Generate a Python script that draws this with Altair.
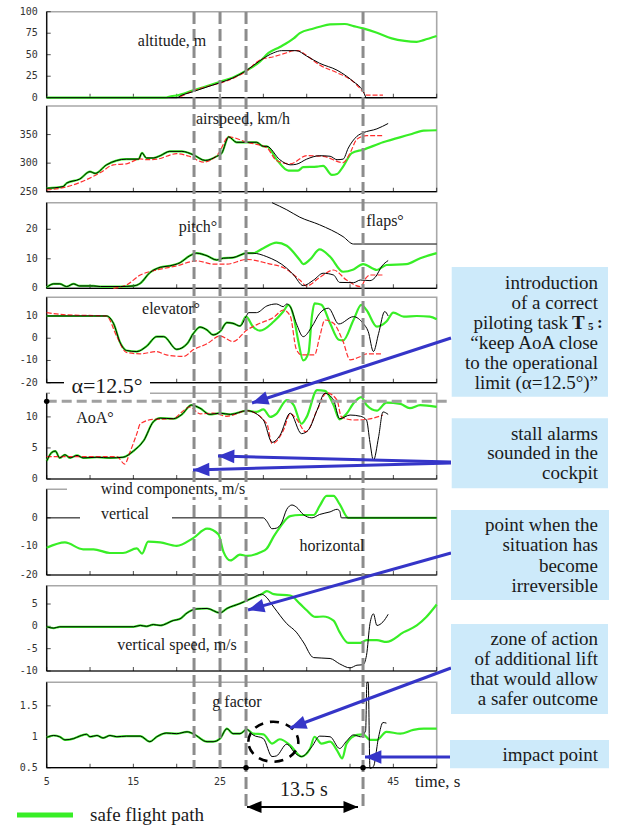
import math
import altair as alt
import pandas as pd

SERIF = "Liberation Serif, Times New Roman, Times, serif"
MONO = "DejaVu Sans Mono, monospace"
GREEN = "#38ee26"
RED = "#ff2e2e"
BLUE = "#3535c8"
FRAME = "#a8a8a8"
DASHGRAY = "#8c8c8c"
BOXBLUE = "#cdeafa"

# ---------------- data ----------------
X_TICKS = [5, 10, 15, 20, 25, 30, 35, 40, 45, 50]
X_LABELS = [5, 15, 25, 45]

# altitude, m
alt_green_t = [5, 18.6, 19.5, 20.0, 21.9, 23.5, 25.0, 26.5, 28.1, 29.6, 30.6, 31.9, 33.5, 34.2, 35.8, 36.5, 37.7, 39.4, 40.4, 41.5, 43.1, 44.8, 46.3, 47.7, 48.5, 50]
alt_green_v = [0, 0, 2, 2.5, 8.5, 13.5, 18.6, 23.6, 32, 42, 52, 59, 69, 75, 80.5, 82.5, 85.3, 85.7, 83.3, 80.6, 75.6, 69, 66, 65, 67, 71.7]
alt_black_t = [5, 20.0, 20.5, 21.9, 23.5, 25.0, 26.5, 28.1, 29.6, 31.2, 32.1, 33.8, 35.0, 36.5, 38.5, 39.6, 40.4, 41.2, 41.5, 41.9, 43.8]
alt_black_v = [0, 0, 2.5, 7, 12.5, 17.4, 23, 32, 43, 52.3, 54.7, 54.7, 48.4, 40, 32, 25, 18.6, 12, 8, 0, 0]
alt_red_t = [20.4, 21.9, 23.5, 25.0, 26.5, 28.1, 29.6, 31.2, 32.7, 33.5, 34.0, 35.0, 36.5, 38.5, 40.4, 41.5, 41.9, 43.8]
alt_red_v = [1, 8, 13, 17, 22.5, 31.4, 43.8, 47.7, 52.3, 54.7, 54.7, 49, 38, 29, 18.6, 7, 3, 3]

# airspeed, km/h
spd_common_t = [5, 6.9, 7.3, 8.8, 10.0, 10.6, 11.9, 14.2, 15.6, 16.0, 16.5, 17.3, 18.1, 19.2, 20.6, 21.9, 23.3, 24.6, 25.2, 26.0, 26.9, 28.1, 29.2, 30.0, 30.4]
spd_common_v = [256, 259, 265, 272, 285, 282, 297, 307, 307, 318, 309, 309, 313, 320.6, 320.6, 314.7, 304.7, 311.8, 317.6, 346, 336.5, 336.5, 336.5, 329.4, 329.4]
spd_black_t = [31.9, 33.1, 33.8, 35.0, 36.5, 37.7, 38.5, 39.2, 39.8, 40.8, 41.5, 43.1, 44.4]
spd_black_v = [306, 297, 298, 307, 313, 312, 306, 307, 326.5, 347, 353, 360, 369.4]
spd_green_t = [31.5, 32.9, 34.0, 34.6, 36.2, 36.9, 37.9, 38.5, 39.2, 40.2, 41.5, 43.8, 46.9, 48.5, 50]
spd_green_v = [307, 287, 287, 293, 294, 295.3, 279.4, 281, 294, 317.6, 323.5, 336.5, 350, 357, 357.6]
spd_red_t = [5, 6.9, 8.8, 11.2, 12.7, 14.2, 15.8, 16.5, 17.7, 20.0, 21.5, 23.1, 24.8, 26.0, 28.1, 30.4, 31.5, 33.1, 35.0, 36.9, 39.2, 40.0, 40.8, 41.9, 43.8]
spd_red_v = [253, 257, 266, 283.5, 297, 298.8, 307.6, 306, 307, 316.5, 311.8, 301.8, 316.5, 346, 336.5, 327, 304.7, 298.8, 313, 311.8, 301, 317.6, 342, 348, 348]

# pitch and flaps, deg
pit_common_t = [5, 5.8, 6.5, 7.3, 8.1, 8.8, 10.4, 11.2, 13.5, 15.0, 15.8, 16.9, 18.1, 19.2, 20.4, 21.5, 22.3, 23.5, 24.6, 25.4, 26.5, 28.1, 28.8]
pit_common_v = [0.3, 1.5, 1.5, 0.6, 1.5, 0.8, 0.8, 0.6, 0.6, 0.8, 1.7, 5.3, 7.1, 7.6, 8.7, 11, 11.9, 11, 9.6, 10.2, 10.4, 11.9, 11.9]
pit_green_t = [30.0, 31.5, 32.7, 34.2, 34.6, 35.4, 36.5, 37.7, 39.2, 40.4, 41.5, 43.1, 44.2, 46.5, 48.1, 50]
pit_green_v = [13.6, 15.5, 14.4, 9.6, 8.2, 9.8, 13.2, 10.7, 5.6, 6.4, 8.2, 6.2, 7.9, 8.2, 10.2, 11.9]
pit_black_t = [30.4, 32.7, 33.5, 34.6, 35.8, 36.9, 38.1, 38.8, 40.4, 41.2, 42.3, 42.9, 43.7, 44.4]
pit_black_v = [10.7, 6.8, 4.5, 0.9, 2.8, 5.1, 4.5, 2, 1.9, 2.8, 2.6, 3.7, 7.6, 9.4]
pit_red_t = [12.7, 14.2, 15.8, 17.7, 20.0, 22.3, 24.2, 25.8, 28.1, 30.4, 32.7, 34.2, 35.0, 36.5, 38.1, 39.6, 41.2, 41.9, 42.3, 43.8]
pit_red_v = [0, 1.1, 4.5, 6.2, 7.6, 9.3, 8.2, 8.2, 9.8, 8.5, 6.4, 2.8, 0.8, 3.7, 6.2, 2.8, 0.6, 3.7, 4.5, 4.5]
flaps_t = [31.0, 32.7, 34.2, 36.5, 39.2, 40.4, 50]
flaps_v = [29, 26.6, 24.1, 21.5, 17.5, 15, 15]

# elevator, deg
elv_common_t = [5, 10.4, 11.9, 12.7, 13.5, 14.2, 15.4, 16.5, 17.7, 18.5, 20.0, 21.2, 21.9, 22.7, 23.5, 24.2, 25.0, 25.8, 26.5, 27.3, 28.0]
elv_common_v = [10, 10, 10, 6.7, -2.2, -5.5, -6, -3.7, 0.7, 0.7, -5, -2.5, 2, 5, 3.7, 1.5, 3, 7, 6.7, 5.5, 9.7]
elv_green_t = [28.8, 29.6, 31.2, 32.3, 32.9, 33.5, 34.0, 34.6, 35.2, 35.6, 35.9, 36.7, 37.7, 38.7, 39.2, 40.4, 41.3, 41.9, 43.1, 44.2, 45.0, 46.2, 47.7, 49.2, 50]
elv_green_v = [5.2, 3.4, 7.5, 12, 15, 9.7, -0.7, -10, -6.7, 9.7, 15.7, 15, 6.7, -0.7, -1, 8.2, 15, 12.7, 5.2, 7.5, 11.5, 9.7, 10, 9.7, 8.5]
elv_black_t = [28.3, 29.2, 30.4, 31.5, 32.3, 32.7, 33.1, 33.8, 34.6, 35.6, 36.5, 37.5, 38.7, 40.4, 41.5, 42.1, 42.7, 43.3, 44.0, 44.4]
elv_black_v = [11.5, 11.5, 14.5, 15.4, 14.2, 15.4, 14.2, 6.7, 0.7, 5.2, 11.2, 13.5, 6.4, 9.7, 6.7, 3, -6, 2.2, 12, 10]
elv_red_t = [5, 7.3, 11.9, 13.1, 14.2, 15.8, 17.7, 18.8, 20.8, 21.9, 23.5, 25.0, 26.5, 28.1, 29.6, 31.2, 32.3, 33.1, 33.8, 34.4, 35.9, 36.5, 37.1, 38.1, 39.2, 40.0, 41.2, 41.9, 43.8]
elv_red_v = [11.5, 10.5, 10, 0.7, -6.4, -7, -6, -7.5, -8.2, -5.2, -2.5, 1, -1.5, 3.7, 6.7, 9.4, 12.7, 10, -5, -7.5, -7.5, 0.7, 8.2, 6.7, -1.5, -9.7, -8.2, -7, -7]

# angle of attack, deg
aoa_common_t = [5, 5.6, 6.0, 6.5, 7.1, 7.7, 8.5, 9.2, 10.8, 12.3, 13.8, 15.0, 16.2, 17.3, 18.1, 19.6, 20.6, 21.7, 22.7, 23.8, 25.0, 26.2, 28.1]
aoa_common_v = [2.9, 4.3, 4.5, 3.4, 3.9, 3.4, 3.8, 3.4, 3.5, 3.4, 3.5, 4.5, 6.2, 9.2, 9.8, 9.7, 10.4, 11.9, 11.4, 10.4, 10.6, 10.4, 11]
aoa_green_t = [29.2, 30.0, 30.8, 31.5, 32.7, 33.5, 34.4, 35.0, 36.2, 37.1, 38.1, 38.8, 39.6, 40.4, 41.3, 41.9, 43.1, 44.2, 45.8, 46.9, 48.1, 50]
aoa_green_v = [10.8, 11.2, 10, 10.5, 12.7, 11.9, 8.9, 10, 14.3, 14.2, 11.9, 9.6, 10.5, 12.2, 13.2, 11.9, 11, 12.3, 12.1, 11.4, 11.9, 11.6]
aoa_black_t = [30.0, 31.0, 31.9, 33.1, 34.4, 35.2, 36.2, 37.1, 38.1, 38.8, 40.0, 41.2, 41.9, 42.3, 42.7, 43.3, 43.8, 44.4]
aoa_black_v = [9.5, 5.9, 7, 10.6, 7.3, 7.9, 11.1, 13.8, 12.7, 9.7, 10.3, 10.1, 9.5, 5.9, 3, 6.8, 10.8, 10.4]
aoa_red_t = [5, 13.1, 14.0, 14.6, 15.4, 15.8, 17.3, 19.6, 20.6, 21.5, 22.7, 24.2, 25.8, 28.1, 30.4, 31.0, 32.3, 33.1, 33.8, 34.9, 36.3, 37.3, 38.5, 39.0, 40.4, 41.9, 43.8]
aoa_red_v = [3.6, 3.6, 2.4, 4.3, 7.3, 8.9, 9.6, 9.7, 10.8, 11.6, 10.5, 10.6, 10.1, 11, 8.9, 5.7, 7.8, 10.5, 9.7, 7.6, 11.4, 13.9, 12.7, 10, 9.5, 9.6, 10.3]
AOA_LIMIT = 12.5

# wind components, m/s
wind_vert_t = [5, 30.0, 30.4, 31.0, 31.5, 32.1, 32.7, 33.3, 33.8, 34.6, 35.6, 36.5, 37.7, 38.5, 38.8, 39.0, 50]
wind_vert_v = [0, 0, -1.2, -3.8, -3.6, -1.8, 3, 4.5, 3.8, 1.2, 0, 1.2, 2.1, 3, 2.4, 0, 0]
wind_hor_t = [5, 7.1, 9.2, 10.4, 12.3, 13.8, 15.4, 16.0, 16.7, 18.1, 20.0, 21.9, 23.5, 24.8, 25.4, 26.2, 27.3, 28.1, 29.6, 30.4, 31.2, 31.9, 33.1, 34.2, 35.8, 36.5, 37.3, 38.1, 38.8, 39.8, 50]
wind_hor_v = [-10.5, -8.6, -11, -11, -12.3, -12.3, -10.7, -12.5, -8.3, -8.6, -9.8, -7.1, -3.8, -5.7, -11.9, -14.9, -12.9, -13.3, -12.1, -10.7, -6.5, -3.3, 0.6, 1, 1, 4.2, 7.7, 7.7, 4.8, 0, 0]

# vertical speed, m/s
vs_common_t = [5, 5.8, 6.5, 15.0, 15.8, 16.5, 17.3, 18.1, 19.6, 20.4, 21.2, 22.3, 23.5, 25.0, 25.8, 27.3, 28.8, 29.8]
vs_common_v = [-0.1, -0.4, -0.1, -0.1, 0.2, 0, 0.4, 0.2, 1.3, 1.7, 3, 3.9, 4, 3, 4, 5.1, 6.4, 7.2]
vs_black_t = [30.2, 31.2, 32.7, 33.8, 34.6, 35.8, 37.7, 38.8, 40.0, 40.8, 41.5, 41.9, 42.3, 42.7, 43.1, 43.8, 44.4]
vs_black_v = [6.8, 4.3, 0.6, -1.3, -3.5, -7, -7.2, -8.4, -9.3, -8.7, -8.6, -6.5, 0.6, 2.8, 0.2, 1, 2.7]
vs_green_t = [30.4, 31.2, 33.1, 34.2, 35.0, 36.0, 36.9, 38.1, 38.8, 39.8, 41.2, 41.9, 43.1, 44.2, 46.2, 47.7, 48.8, 50]
vs_green_v = [7.9, 7.2, 6.9, 5.1, 3.6, 2.1, 2.2, 1.3, -1.3, -3.7, -3.7, -3.1, -3.1, -3.5, -1.3, 0.2, 2.1, 4.9]

# g factor
g_common_t = [5, 5.8, 6.5, 7.1, 8.1, 8.8, 9.6, 10.0, 10.8, 11.5, 12.3, 13.1, 14.2, 15.8, 16.9, 17.7, 18.8, 20.0, 21.2, 21.9, 23.5, 24.2, 25.0, 25.8, 26.5, 27.3, 28.1]
g_common_v = [0.99, 1.02, 1.0, 0.95, 0.97, 1.01, 1.04, 1.0, 1.02, 0.98, 1.02, 1.0, 1.01, 1.01, 0.92, 1.0, 1.06, 1.05, 1.08, 1.05, 0.92, 0.92, 0.97, 1.13, 1.05, 1.05, 1.12]
g_green_t = [28.8, 30.0, 31.0, 31.9, 33.1, 34.4, 35.4, 35.9, 36.7, 37.7, 38.5, 39.1, 39.6, 40.8, 41.5, 42.3, 43.1, 44.2, 45.8, 47.3, 48.5, 50]
g_green_v = [1.05, 1.04, 0.89, 0.96, 0.86, 0.68, 0.81, 1.0, 0.89, 0.92, 0.78, 0.65, 0.89, 1.03, 1.04, 0.95, 0.95, 1.08, 1.05, 1.11, 1.13, 1.13]
g_black_t = [28.8, 30.0, 31.0, 31.5, 32.7, 33.7, 34.4, 35.6, 36.5, 37.7, 38.8, 39.6, 40.4, 41.2, 41.8, 41.95, 42.1, 42.3, 42.7, 43.3, 43.8, 44.2]
g_black_v = [1.03, 0.97, 0.68, 0.69, 0.88, 0.73, 0.68, 0.84, 1.01, 1.0, 0.81, 0.93, 1.03, 1.0, 1.1, 1.88, 1.88, 0.49, 0.52, 1.0, 1.23, 1.22]

# key moments, s
KEY_TIMES = [22, 25, 28, 41.5]
ZONE_T, ZONE_G = 31.15, 0.92
IRREVERSIBLE_T, IMPACT_T = 28, 41.5

# ---------------- layout ----------------
W, H = 618, 825
X_LEFT, X_RIGHT = 46.7, 436.7
XS = alt.Scale(domain=[5, 50], range=[X_LEFT, X_RIGHT], nice=False, zero=False)

PANELS = [
    dict(dom=[0, 100], top=11.7, bot=97.7, ticks=[0, 25, 50, 75, 100]),
    dict(dom=[250, 400], top=106.0, bot=191.7, ticks=[250, 300, 350]),
    dict(dom=[0, 29], top=202.7, bot=288.3, ticks=[0, 10, 20]),
    dict(dom=[-20, 18.4], top=297.3, bot=382.7, ticks=[-20, -10, 0, 10]),
    dict(dom=[0, 13.8], top=393.3, bot=479.0, ticks=[0, 5, 10]),
    dict(dom=[-20, 10], top=489.3, bot=575.0, ticks=[-20, -10, 0]),
    dict(dom=[-10, 9.1], top=585.7, bot=671.0, ticks=[-10, -5, 0, 5]),
    dict(dom=[0.5, 1.88], top=682.3, bot=767.7, ticks=[0.5, 1, 1.5]),
]


def ysc(p):
    return alt.Scale(domain=p["dom"], range=[p["bot"], p["top"]], nice=False, zero=False)


def enc_tv(p):
    return dict(x=alt.X("t:Q", scale=XS, axis=None), y=alt.Y("v:Q", scale=ysc(p), axis=None))


def series(p, t, v, color, width, dash=None):
    kw = dict(color=color, strokeWidth=width, interpolate="monotone")
    if dash:
        kw["strokeDash"] = dash
    return alt.Chart(pd.DataFrame({"t": t, "v": v})).mark_line(**kw).encode(**enc_tv(p))


def frame(p):
    lo, hi = p["dom"]
    box = alt.Chart(pd.DataFrame({"a": [5], "b": [50], "lo": [lo], "hi": [hi]}))
    rect = box.mark_rect(fill="transparent", stroke=FRAME, strokeWidth=1.6).encode(
        x=alt.X("a:Q", scale=XS, axis=None), x2="b:Q",
        y=alt.Y("lo:Q", scale=ysc(p), axis=None), y2="hi:Q")
    left = box.mark_rule(color="black", strokeWidth=1.2).encode(
        x=alt.X("a:Q", scale=XS, axis=None), y=alt.Y("lo:Q", scale=ysc(p), axis=None), y2="hi:Q")
    bottom = box.mark_rule(color="black", strokeWidth=1.2).encode(
        x=alt.X("a:Q", scale=XS, axis=None), x2="b:Q", y=alt.Y("lo:Q", scale=ysc(p), axis=None))
    xt = alt.Chart(pd.DataFrame({"t": X_TICKS, "v": [lo] * len(X_TICKS)})).mark_tick(
        orient="vertical", size=4, thickness=1, yOffset=-2, color="black").encode(**enc_tv(p))
    ydf = pd.DataFrame({"t": [5] * len(p["ticks"]), "v": p["ticks"],
                        "lab": [f"{v:g}" for v in p["ticks"]]})
    yt = alt.Chart(ydf).mark_tick(orient="horizontal", size=4, thickness=1, xOffset=2,
                                  color="black").encode(**enc_tv(p))
    ylab = alt.Chart(ydf).mark_text(align="right", baseline="middle", dx=-9, font=MONO,
                                    fontSize=10, color="#333").encode(text="lab:N", **enc_tv(p))
    return [rect, left, bottom, xt, yt, ylab]


def panel(p, lines):
    return alt.layer(*(frame(p) + lines))


P = PANELS
panels = [
    panel(P[0], [series(P[0], alt_green_t, alt_green_v, GREEN, 2.2),
                 series(P[0], alt_red_t, alt_red_v, RED, 1.2, [5, 2]),
                 series(P[0], alt_black_t, alt_black_v, "black", 1)]),
    panel(P[1], [series(P[1], spd_common_t + spd_green_t, spd_common_v + spd_green_v, GREEN, 2.2),
                 series(P[1], spd_red_t, spd_red_v, RED, 1.2, [5, 2]),
                 series(P[1], spd_common_t + spd_black_t, spd_common_v + spd_black_v, "black", 1)]),
    panel(P[2], [series(P[2], pit_common_t + pit_green_t, pit_common_v + pit_green_v, GREEN, 2.2),
                 series(P[2], pit_red_t, pit_red_v, RED, 1.2, [5, 2]),
                 series(P[2], pit_common_t + pit_black_t, pit_common_v + pit_black_v, "black", 1),
                 series(P[2], flaps_t, flaps_v, "black", 1)]),
    panel(P[3], [series(P[3], elv_common_t + elv_green_t, elv_common_v + elv_green_v, GREEN, 2.2),
                 series(P[3], elv_red_t, elv_red_v, RED, 1.2, [5, 2]),
                 series(P[3], elv_common_t + elv_black_t, elv_common_v + elv_black_v, "black", 1)]),
    panel(P[4], [series(P[4], aoa_common_t + aoa_green_t, aoa_common_v + aoa_green_v, GREEN, 2.2),
                 series(P[4], aoa_red_t, aoa_red_v, RED, 1.2, [5, 2]),
                 series(P[4], aoa_common_t + aoa_black_t, aoa_common_v + aoa_black_v, "black", 1)]),
    panel(P[5], [series(P[5], wind_hor_t, wind_hor_v, GREEN, 2.2),
                 series(P[5], wind_vert_t, wind_vert_v, "black", 1)]),
    panel(P[6], [series(P[6], vs_common_t + vs_green_t, vs_common_v + vs_green_v, GREEN, 2.2),
                 series(P[6], vs_common_t + vs_black_t, vs_common_v + vs_black_v, "black", 1)]),
    panel(P[7], [series(P[7], g_common_t + g_green_t, g_common_v + g_green_v, GREEN, 2.2),
                 series(P[7], g_common_t + g_black_t, g_common_v + g_black_v, "black", 1)]),
]

PX = dict(scale=None)


def px_rule(df, color, width, dash=None):
    kw = dict(color=color, strokeWidth=width)
    if dash:
        kw["strokeDash"] = dash
    return alt.Chart(df).mark_rule(**kw).encode(
        x=alt.X("x1:Q", **PX), x2="x2:Q", y=alt.Y("y1:Q", **PX), y2="y2:Q")


def px_rect(df, fill):
    return alt.Chart(df).mark_rect(fill=fill).encode(
        x=alt.X("x1:Q", **PX), x2="x2:Q", y=alt.Y("y1:Q", **PX), y2="y2:Q")


def px_text(rows, align="center", font=SERIF, weight="normal", color="#1a1a1a"):
    df = pd.DataFrame(rows, columns=["text", "x", "y", "fs"])
    return alt.Chart(df).mark_text(align=align, baseline="middle", font=font,
                                   fontWeight=weight, color=color).encode(
        x=alt.X("x:Q", **PX), y=alt.Y("y:Q", **PX), text="text:N",
        size=alt.Size("fs:Q", scale=None))


HEAD = "M0,0 L0.75,1.8 L-0.75,1.8 Z"


def arrows(segs, color, width, size):
    df = pd.DataFrame(segs, columns=["x1", "y1", "x2", "y2"])
    df["ang"] = [math.degrees(math.atan2(b - a, -(d - c))) % 360
                 for a, c, b, d in zip(df.x1, df.y1, df.x2, df.y2)]
    line = px_rule(df, color, width)
    head = alt.Chart(df).mark_point(shape=HEAD, filled=True, size=size, color=color,
                                    opacity=1, strokeWidth=0).encode(
        x=alt.X("x2:Q", **PX), y=alt.Y("y2:Q", **PX), angle=alt.Angle("ang:Q", scale=None))
    return [line, head]


# dashed vertical marker lines (time scale, pixel extent)
vdf = pd.DataFrame({"t": KEY_TIMES, "y1": [12, 12, 12, 12], "y2": [767.7, 767.7, 808, 808]})
vlines = alt.Chart(vdf).mark_rule(color=DASHGRAY, strokeWidth=3, strokeDash=[12, 5]).encode(
    x=alt.X("t:Q", scale=XS, axis=None), y=alt.Y("y1:Q", **PX), y2="y2:Q")

# AoA limit line and dot
p5 = P[4]
lim = alt.Chart(pd.DataFrame({"t": [5], "t2": [51.2], "v": [AOA_LIMIT]})).mark_rule(
    color="#a0a0a0", strokeWidth=3, strokeDash=[10, 5]).encode(
    x=alt.X("t:Q", scale=XS, axis=None), x2="t2:Q", y=alt.Y("v:Q", scale=ysc(p5), axis=None))
limdot = alt.Chart(pd.DataFrame({"t": [5], "v": [AOA_LIMIT]})).mark_circle(
    size=30, color="black", opacity=1).encode(**enc_tv(p5))

# g-panel markers
p8 = P[7]
zone = alt.Chart(pd.DataFrame({"t": [ZONE_T], "v": [ZONE_G]})).mark_point(
    shape="M-1,0 A1,0.8 0 1,1 1,0 A1,0.8 0 1,1 -1,0 Z", size=2500, filled=False,
    color="black", strokeWidth=2.6, strokeDash=[9, 7], opacity=1).encode(**enc_tv(p8))
gdots = alt.Chart(pd.DataFrame({"t": [IRREVERSIBLE_T, IMPACT_T], "v": [0.5, 0.5]})).mark_circle(
    size=30, color="black", opacity=1).encode(**enc_tv(p8))
xlabdf = pd.DataFrame({"t": X_LABELS, "v": [0.5] * len(X_LABELS), "lab": [str(v) for v in X_LABELS]})
xlabs = alt.Chart(xlabdf).mark_text(baseline="middle", dy=14, font=MONO, fontSize=10,
                                    color="#333").encode(text="lab:N", **enc_tv(p8))

# white label backgrounds
white = px_rect(pd.DataFrame({"x1": [64, 50, 67, 80], "x2": [150, 150, 280, 172],
                              "y1": [372, 386, 482, 507], "y2": [399, 399, 497, 521]}), "white")

titles = px_text([
    ["altitude, m", 172, 41, 16], ["airspeed, km/h", 243, 119, 16],
    ["pitch°", 198, 227, 16], ["flaps°", 385, 221, 16], ["elevator°", 171, 309, 16],
    ["AoA°", 95, 418, 16], ["α=12.5°", 107, 386, 22], ["wind components, m/s", 173, 489, 16],
    ["vertical", 125, 514, 16], ["horizontal", 332, 546, 16],
    ["vertical speed, m/s", 177, 645, 16], ["g factor", 237, 702, 16],
    ["13.5 s", 304, 790, 20],
])
time_lab = px_text([["time, s", 415, 782, 17], ["safe flight path", 90, 815, 19]], align="left")
legend_line = px_rule(pd.DataFrame({"x1": [17], "x2": [73], "y1": [815], "y2": [815]}), GREEN, 5)

# callouts
blue_arrows = arrows([[451, 338, 252, 403], [451, 462, 218, 456], [451, 463, 193, 470],
                      [451, 553, 248, 610], [451, 668, 290, 728], [451, 757, 365, 757]],
                     BLUE, 3, 330)
boxes = px_rect(pd.DataFrame({"x1": [451.7, 451.7, 451, 451, 450],
                              "x2": [608, 608, 609, 608, 609],
                              "y1": [267, 418.3, 510, 624, 740],
                              "y2": [396.7, 488.3, 600, 714, 768.3]}), BOXBLUE)
RX = 598
box_text = px_text([
    ["introduction", RX, 282.7, 19], ["of a correct", RX, 302.7, 19],
    ["piloting task", 568, 322.7, 19], ["“keep AoA close", RX, 342.7, 19],
    ["to the operational", RX, 363.3, 19], ["limit (α=12.5°)”", RX, 383.3, 19],
    ["stall alarms", RX, 434, 19], ["sounded in the", RX, 453, 19], ["cockpit", RX, 473, 19],
    ["point when the", RX, 525, 19], ["situation has", RX, 545, 19],
    ["become", RX, 566, 19], ["irreversible", RX, 586, 19],
    ["zone of action", RX, 639.3, 19], ["of additional lift", RX, 659.3, 19],
    ["that would allow", RX, 679.3, 19], ["a safer outcome", RX, 699.3, 19],
    ["impact point", RX, 755, 19],
], align="right")
t5 = px_text([["T", 572, 322.7, 19], ["5", 588, 327, 11], [":", 597, 322.7, 17]],
             align="left", weight="bold")

span = arrows([[300, 807, 247, 807], [300, 807, 358, 807]], "black", 2, 260)

chart = alt.layer(
    *panels, vlines, lim, limdot, zone, gdots, xlabs, white, titles, time_lab, legend_line,
    *blue_arrows, boxes, box_text, t5, *span,
).resolve_scale(x="independent", y="independent").properties(
    width=W, height=H, autosize=alt.AutoSizeParams(type="none"), padding=0,
).configure_view(strokeWidth=0)

chart.save("out.html", embed_options={"renderer": "svg", "actions": False})
